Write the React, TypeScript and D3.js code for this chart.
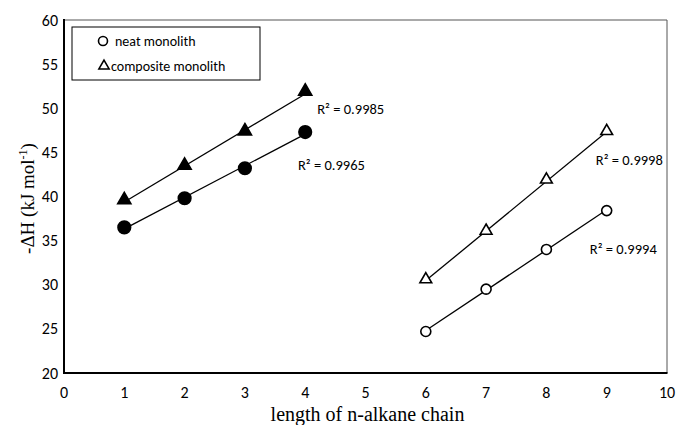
import React from 'react';
import * as d3 from 'd3';

// chain length and -dH values
const neatFilledX = [1, 2, 3, 4];
const neatFilledY = [36.5, 39.8, 43.2, 47.3];
const compFilledX = [1, 2, 3, 4];
const compFilledY = [39.5, 43.4, 47.3, 51.8];
const neatOpenX = [6, 7, 8, 9];
const neatOpenY = [24.7, 29.5, 34.0, 38.4];
const compOpenX = [6, 7, 8, 9];
const compOpenY = [30.5, 36.0, 41.8, 47.3];

const xTicks = [0, 1, 2, 3, 4, 5, 6, 7, 8, 9, 10];
const yTicks = [20, 25, 30, 35, 40, 45, 50, 55, 60];

const r2Labels = ['R² = 0.9985', 'R² = 0.9965', 'R² = 0.9998', 'R² = 0.9994'];

const W = 676;
const H = 425;
const margin = { left: 64, right: 9, top: 20, bottom: 52 };

const SANS = 'Carlito, Lato, "Open Sans", sans-serif';
const SERIF = '"Liberation Serif", "Times New Roman", serif';

const fit = (xs: number[], ys: number[]) => {
  const mx = d3.mean(xs)!;
  const my = d3.mean(ys)!;
  const b = d3.sum(xs, (x, i) => (x - mx) * (ys[i] - my)) / d3.sum(xs, (x) => (x - mx) ** 2);
  const a = my - b * mx;
  const x0 = d3.min(xs)!;
  const x1 = d3.max(xs)!;
  return [
    [x0, a + b * x0],
    [x1, a + b * x1],
  ] as [number, number][];
};

const App = () => {
  const x = d3.scaleLinear().domain([0, 10]).range([margin.left, W - margin.right]);
  const y = d3.scaleLinear().domain([20, 60]).range([H - margin.bottom, margin.top]);
  const line = d3
    .line<[number, number]>()
    .x((d) => x(d[0]))
    .y((d) => y(d[1]));
  const triFilled = d3.symbol().type(d3.symbolTriangle).size(75);
  const triOpen = d3.symbol().type(d3.symbolTriangle).size(60);

  const series = [
    { xs: compFilledX, ys: compFilledY, shape: 'tri', filled: true },
    { xs: neatFilledX, ys: neatFilledY, shape: 'circle', filled: true },
    { xs: compOpenX, ys: compOpenY, shape: 'tri', filled: false },
    { xs: neatOpenX, ys: neatOpenY, shape: 'circle', filled: false },
  ];

  // label anchors in data units
  const labelPos: [number, number][] = [
    [4.2, 49.9],
    [3.88, 43.6],
    [8.82, 44.1],
    [8.72, 34.1],
  ];

  const x0 = x(0);
  const x1 = x(10);
  const y0 = y(20);
  const y1 = y(60);

  return (
    <svg width={W} height={H} style={{ position: 'absolute', left: 0, top: 0, background: '#fff' }}>
      <rect width={W} height={H} fill="#fff" />
      {/* frame: thin top/right, thick left/bottom */}
      <path d={`M${x0},${y1}H${x1}V${y0}`} fill="none" stroke="#555" strokeWidth={1} />
      <path d={`M${x0},${y1 - 1}V${y0}H${x1 + 0.5}`} fill="none" stroke="#000" strokeWidth={2} />

      {yTicks.map((t) => (
        <text key={t} x={x0 - 6} y={y(t)} dy="0.35em" textAnchor="end" fontFamily={SANS} fontSize={16} fill="#000">
          {t}
        </text>
      ))}
      {xTicks.map((t) => (
        <text key={t} x={x(t)} y={y0 + 25} textAnchor="middle" fontFamily={SANS} fontSize={16} fill="#000">
          {t}
        </text>
      ))}

      <text x={(x0 + x1) / 2 + 2} y={H - 4} textAnchor="middle" fontFamily={SERIF} fontSize={20} fill="#000">
        length of n-alkane chain
      </text>
      <text
        transform={`translate(34,${(y0 + y1) / 2 + 2}) rotate(-90)`}
        textAnchor="middle"
        fontFamily={SERIF}
        fontSize={19}
        fill="#000"
      >
        -ΔH (kJ mol<tspan dy={-7} fontSize={12}>-1</tspan>
        <tspan dy={7}>)</tspan>
      </text>

      {series.map((s, i) => {
        const pts = s.xs.map((v, j) => [v, s.ys[j]] as [number, number]);
        return (
          <g key={i}>
            <path d={line(fit(s.xs, s.ys)) || ''} fill="none" stroke="#000" strokeWidth={1.3} />
            {pts.map((p, j) =>
              s.shape === 'circle' ? (
                <circle
                  key={j}
                  cx={x(p[0])}
                  cy={y(p[1])}
                  r={s.filled ? 6.3 : 5}
                  fill={s.filled ? '#000' : '#fff'}
                  stroke="#000"
                  strokeWidth={1.6}
                />
              ) : (
                <path
                  key={j}
                  d={(s.filled ? triFilled() : triOpen()) || ''}
                  transform={`translate(${x(p[0])},${y(p[1]) - 1})`}
                  fill={s.filled ? '#000' : '#fff'}
                  stroke="#000"
                  strokeWidth={1.6}
                />
              )
            )}
          </g>
        );
      })}

      {r2Labels.map((l, i) => (
        <text key={l} x={x(labelPos[i][0])} y={y(labelPos[i][1])} dy="0.35em" fontFamily={SANS} fontSize={14.5} fill="#000">
          {l}
        </text>
      ))}

      {/* legend */}
      <rect x={72} y={27} width={188} height={53} fill="#fff" stroke="#000" strokeWidth={1} />
      <circle cx={103} cy={41} r={4.5} fill="none" stroke="#000" strokeWidth={1.6} />
      <text x={115} y={41} dy="0.35em" fontFamily={SANS} fontSize={14} fill="#000">
        neat monolith
      </text>
      <path d={d3.symbol().type(d3.symbolTriangle).size(45)() || ''} transform="translate(104,66)" fill="none" stroke="#000" strokeWidth={1.6} />
      <text x={111} y={66} dy="0.35em" fontFamily={SANS} fontSize={14} fill="#000">
        composite monolith
      </text>
    </svg>
  );
};

export default App;
